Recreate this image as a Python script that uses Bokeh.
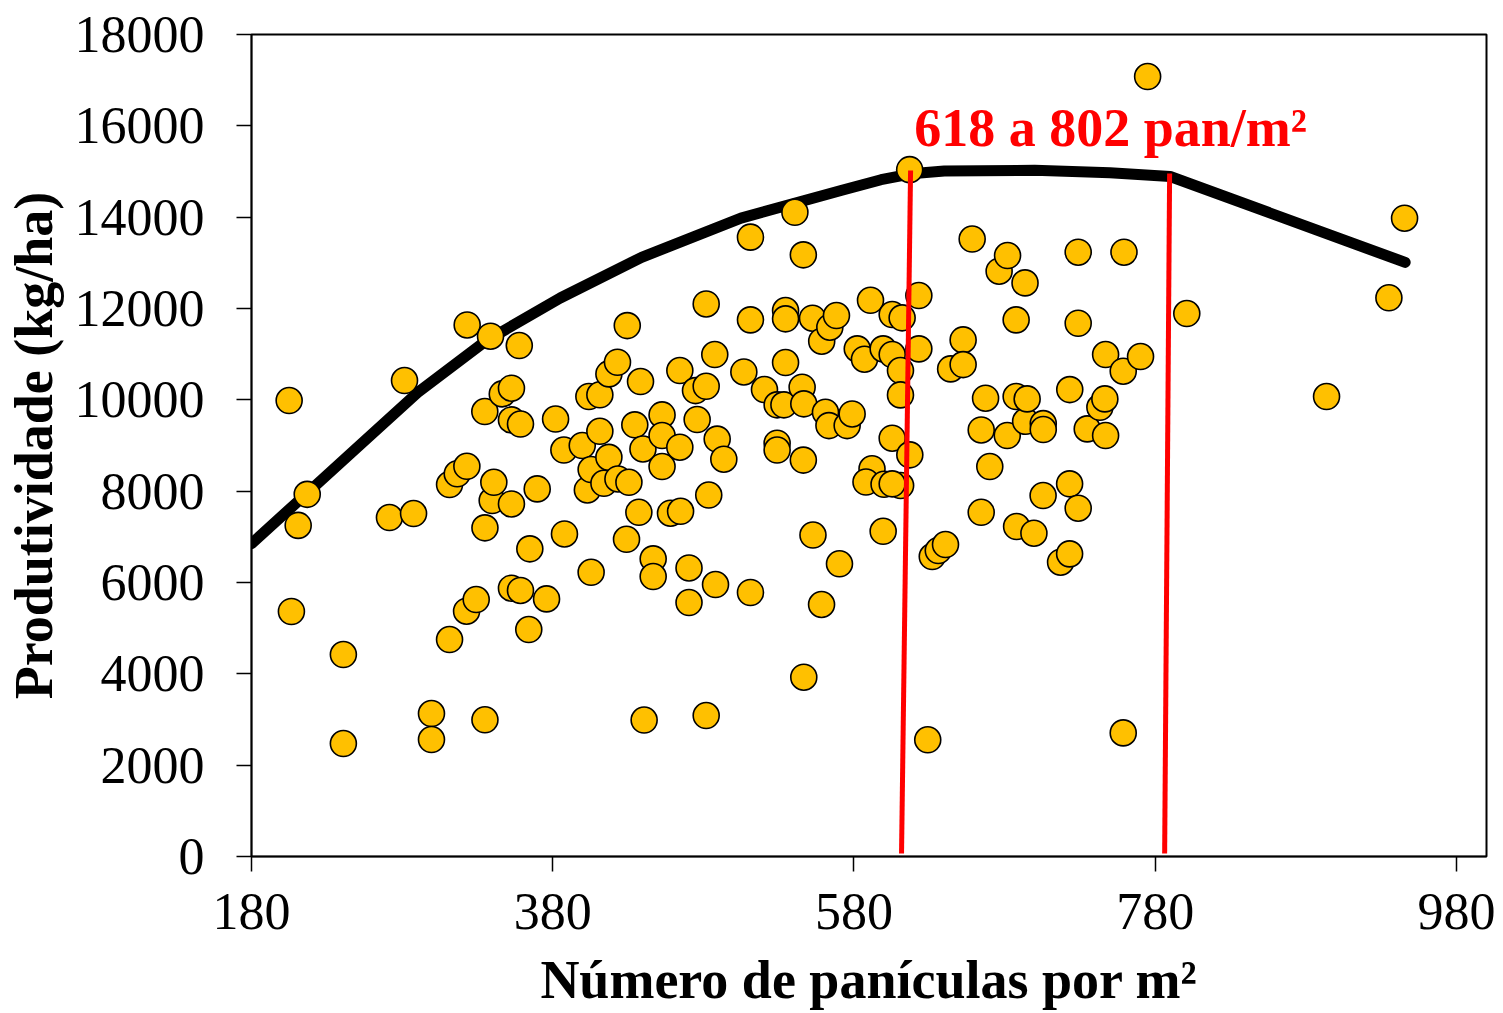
from bokeh.plotting import figure
from bokeh.models import ColumnDataSource, Range1d, FixedTicker, Label
from bokeh.embed import file_html
from bokeh.resources import INLINE

# ---- data ----
pan_m2 = [205, 206.5, 211, 217, 241, 241, 271.6, 281.6, 287.6, 299.5, 299.5, 311.5, 311.5, 316.6, 323, 323.2,
          322.8, 329.2, 335, 334.9, 335, 338.7, 339.8, 340.9, 346.5, 352.6, 352.6, 352.6, 352.6, 357.8, 358.6,
          358.6, 364.1, 364.8, 369.7, 375.9, 381.9, 387.4, 387.8, 399.6, 403, 404, 405.5, 405.5, 411.3, 411.3,
          414, 417.3, 417.3, 423, 423.3, 429, 429.5, 430.6, 434.5, 437.2, 438.3, 439.9, 440.7, 446.7, 446.7,
          452.6, 452.6, 452.6, 458.2, 464.4, 464.4, 464.9, 470.5, 470.5, 474.8, 475.9, 481.9, 481.9, 481.9,
          483.6, 487.6, 488.1, 489.2, 493.6, 506.9, 511.3, 511.3, 511.3, 520.6, 529, 529, 529, 533.5, 534.6,
          534.6, 534.6, 540.8, 545.6, 546.4, 546.7, 546.4, 546.7, 552.5, 552.8, 558.6, 558.5, 561.1, 563.4,
          564, 568.4, 570.4, 575.5, 578.8, 582.2, 587, 591, 592, 588, 600, 611, 605.4, 599.4, 605.4, 605.4,
          612, 610.9, 610.9, 605.4, 617.1, 599.4, 617, 623.1, 623.1, 629, 632, 636, 640.8, 644.2, 652.5,
          652.5, 658.5, 664.5, 664.5, 667.4, 670.2, 676.4, 681.8, 682, 687.7, 687.7, 688, 693.6, 694, 695,
          699.5, 705.7, 705.7, 705.6, 717.2, 723.3, 723.2, 723.2, 728.9, 728.9, 728.9, 734.9, 743.3, 746.6,
          747.1, 747.1, 758.8, 758.8, 759.3, 770.3, 775, 801, 893.8, 935.2, 945.6]
produtividade = [9985, 5365, 7250, 7930, 4423, 2474, 7423, 10423, 7510, 3131, 2562, 4751, 8145, 8380, 8544, 11640,
                 5371, 5627, 2993, 9744, 7197, 11393, 7795, 8195, 10130, 10255, 9561, 7720, 5875, 11189, 9470,
                 5825, 4970, 6737, 8050, 5641, 9580, 8900, 7063, 8999, 8027, 10072, 8473, 6224, 10110, 9311,
                 8173, 10568, 8740, 10823, 8268, 6947, 11626, 8195, 9452, 7538, 10400, 8925, 2989, 6518, 6131,
                 9670, 9218, 8539, 7517, 10641, 8962, 7559, 6319, 5561, 10202, 9568, 12100, 10296, 3087,
                 7916, 10992, 5956, 9140, 8700, 10610, 13562, 11751, 5781, 10225, 9050, 8900, 9890, 9890, 11955,
                 11773, 10817, 14107, 10276, 13175, 9912, 8680, 3926, 11787, 7040, 11283, 5518, 9727, 9436,
                 11590, 11846, 6409, 9436, 9690, 11116, 10890, 12180, 8490, 8200, 8150, 8123, 8160, 11116, 10992, 11868,
                 11795, 10641, 10108, 9160, 8795, 7121, 15040, 12284, 11116, 2555, 6569, 6700, 6831, 10677, 11312,
                 10772, 13521, 9341, 7538, 10035, 8539, 12816, 9218, 13160, 11751, 10072, 7226, 12561, 9530, 10020,
                 7080, 9480, 9350, 7904, 6445, 10224, 8160, 6627, 13233, 11677, 7626, 9364, 9837, 10020,
                 10992, 9218, 10627, 2707, 13233, 10948, 17079, 11890, 10072, 12234, 13977]

# fitted curve
curve_x = [180, 215, 246, 290, 335, 385, 439, 505, 572, 598, 618, 640, 700, 750, 790, 946]
curve_y = [6850, 7900, 8830, 10150, 11276, 12230, 13120, 13980, 14590, 14820, 14950, 15010, 15025, 14975, 14890, 13010]

# red limit lines (slightly slanted in the original)
limit_x_top = [617.6, 789.6]
limit_y_top = [15020, 14955]
limit_x_bot = [611.6, 786.3]
limit_y_bot = [66, 66]

label_text = "618 a 802 pan/m²"
label_x = 620
label_y = 15960

x_ticks = [180, 380, 580, 780, 980]
y_ticks = [0, 2000, 4000, 6000, 8000, 10000, 12000, 14000, 16000, 18000]

FONT = "Liberation Serif"

p = figure(width=1503, height=1013, output_backend="svg", toolbar_location=None,
           x_range=Range1d(180, 1000), y_range=Range1d(0, 18000),
           min_border_left=251, min_border_right=17, min_border_top=34, min_border_bottom=157)
p.background_fill_color = "white"
p.border_fill_color = "white"
p.outline_line_color = "black"
p.outline_line_width = 2
p.xgrid.visible = False
p.ygrid.visible = False

p.line(curve_x, curve_y, line_color="black", line_width=11, line_join="round", line_cap="round")

src = ColumnDataSource(dict(x=pan_m2, y=produtividade))
p.scatter("x", "y", source=src, size=26, fill_color="#FFC000", line_color="black", line_width=1.6)

seg_src = ColumnDataSource(dict(x0=limit_x_top, y0=limit_y_top, x1=limit_x_bot, y1=limit_y_bot))
p.segment("x0", "y0", "x1", "y1", source=seg_src, line_color="#FF0000", line_width=5)

p.add_layout(Label(x=label_x, y=label_y, text=label_text, text_color="#FF0000",
                   text_font=FONT, text_font_size="54px", text_font_style="bold",
                   text_baseline="alphabetic", text_align="left"))

for ax in (p.xaxis[0], p.yaxis[0]):
    ax.axis_line_color = "black"
    ax.axis_line_width = 1.5
    ax.major_tick_line_color = "black"
    ax.major_tick_line_width = 1.5
    ax.major_tick_out = 15
    ax.major_tick_in = 0
    ax.minor_tick_line_color = None
    ax.major_label_text_font = FONT
    ax.major_label_text_font_size = "52px"
    ax.major_label_text_color = "black"
    ax.axis_label_text_font = FONT
    ax.axis_label_text_font_size = "54px"
    ax.axis_label_text_font_style = "bold"
    ax.axis_label_text_color = "black"

p.xaxis[0].ticker = FixedTicker(ticks=x_ticks)
p.yaxis[0].ticker = FixedTicker(ticks=y_ticks)
p.xaxis[0].axis_label = "Número de panículas por m²"
p.yaxis[0].axis_label = "Produtividade (kg/ha)"
p.xaxis[0].major_label_standoff = 22
p.xaxis[0].axis_label_standoff = 18
p.yaxis[0].major_label_standoff = 32
p.yaxis[0].axis_label_standoff = 8

open("out.html", "w").write(file_html(p, INLINE))
